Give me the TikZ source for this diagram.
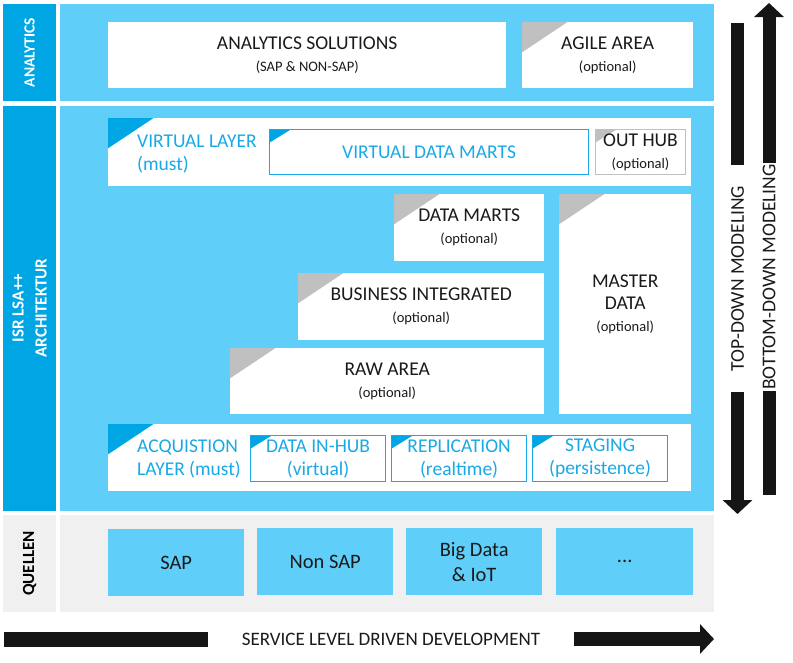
\documentclass[tikz,border=0pt]{standalone}
\usepackage{fontspec}
\setmainfont{Carlito}
\usetikzlibrary{arrows.meta}

\definecolor{sidebl}{HTML}{00A6E4}
\definecolor{panelbl}{HTML}{5FCFFA}
\definecolor{textbl}{HTML}{1AA9E6}
\definecolor{trigr}{HTML}{C0C0C0}
\definecolor{srcbg}{HTML}{F0F0F0}
\definecolor{fatblk}{HTML}{151515}
\definecolor{txtblk}{HTML}{1A1A1A}

\newcommand{\opt}[1]{{\fontsize{14.5}{17}\selectfont #1}}

\tikzset{
  basebox/.style={anchor=north west, inner sep=0pt, align=center,
    text=txtblk, font=\fontsize{19.5}{22}\selectfont},
  whitebox/.style={basebox, fill=white, execute at begin node={\rule{0pt}{18.5pt}}},
  srcbox/.style={basebox, fill=panelbl, minimum width=136pt, minimum height=67pt,
    font=\fontsize{20.5}{25}\selectfont},
  subbox/.style={basebox, fill=white, draw=textbl, line width=1.2pt, text=textbl,
    font=\fontsize{19.5}{23}\selectfont},
  bigtri/.style={path picture={\fill[#1] (path picture bounding box.north west)
    -- ++(45,0) -- ++(-45,30) -- cycle;}},
  smalltri/.style={path picture={\fill[#1] (path picture bounding box.north west)
    -- ++(21,0) -- ++(-21,13) -- cycle;}},
  bluetxt/.style={anchor=west, align=left, inner sep=0pt, text=textbl,
    font=\fontsize{19.5}{23}\selectfont},
  sidelbl/.style={rotate=90, align=center, text=white,
    font=\fontsize{17}{23}\selectfont\bfseries},
  modelbl/.style={rotate=90, inner sep=0pt, minimum width=227pt, text=txtblk,
    font=\fontsize{19.5}{22}\selectfont},
  fatbar/.style={draw=fatblk, line width=13pt},
  fatarrow/.style={fatbar, -{Triangle[width=29pt,length=14pt]}},
}

\begin{document}
\begin{tikzpicture}[x=1pt,y=-1pt]
\useasboundingbox (0,0) rectangle (793,662);

% --- analytics ---
\fill[sidebl] (3,4) rectangle (56,101);
\fill[panelbl] (60,4) rectangle (714,101);
\node[sidelbl, font=\fontsize{15.5}{17}\selectfont\bfseries] (lblana) at (29.5,52.5) {ANALYTICS};

\node[whitebox, minimum width=398pt, minimum height=66pt] (anasol) at (108,22)
  {ANALYTICS SOLUTIONS\\\opt{(SAP \& NON-SAP)}};
\node[whitebox, bigtri=trigr, minimum width=171pt, minimum height=66pt] (agile) at (522,22)
  {AGILE AREA\\\opt{(optional)}};

% --- isr lsa++ ---
\fill[sidebl] (3,106) rectangle (56,511);
\fill[panelbl] (60,106) rectangle (714,511);
\node[sidelbl] (lblisr) at (29.5,308) {ISR LSA++\\ARCHITEKTUR};

% virtual layer
\node[basebox, fill=white, bigtri=sidebl, minimum width=583pt, minimum height=68pt] (vlayer) at (108,118) {};
\node[bluetxt] (vlayertxt) at (137,154) {VIRTUAL LAYER\\(must)};
\node[subbox, smalltri=sidebl, minimum width=319pt, minimum height=45pt] (vdm) at (269,129)
  {VIRTUAL DATA MARTS};
\node[whitebox, draw=trigr, line width=1pt, smalltri=trigr, minimum width=90pt,
  minimum height=45pt] (outhub) at (595,129) {OUT HUB\\\opt{(optional)}};

% schichten
\node[whitebox, bigtri=trigr, minimum width=150pt, minimum height=67pt] (dmarts) at (394,194)
  {DATA MARTS\\\opt{(optional)}};
\node[whitebox, bigtri=trigr, minimum width=132pt, minimum height=220pt] (mdata) at (559,194)
  {MASTER\\DATA\\\opt{(optional)}};
\node[whitebox, bigtri=trigr, minimum width=246pt, minimum height=67pt] (bizint) at (298,273)
  {BUSINESS INTEGRATED\\\opt{(optional)}};
\node[whitebox, bigtri=trigr, minimum width=314pt, minimum height=66pt] (rawarea) at (230,348)
  {RAW AREA\\\opt{(optional)}};

% acquisition layer
\node[basebox, fill=white, bigtri=sidebl, minimum width=583pt, minimum height=67pt] (acqlayer) at (108,424) {};
\node[bluetxt] (acqtxt) at (137,459.5) {ACQUISTION\\LAYER (must)};
\foreach \x/\nm/\ta/\tb in {250/inhub/DATA IN-HUB/(virtual),
                            391/replic/REPLICATION/(realtime),
                            532/staging/STAGING/(persistence)}
  \node[subbox, smalltri=sidebl, minimum width=135pt, minimum height=46pt] (\nm) at (\x,435)
    {\ta\\\tb};

% --- quellen ---
\fill[srcbg] (3,515) rectangle (56,612);
\fill[srcbg] (60,515) rectangle (714,612);
\node[sidelbl, text=black] (lblsrc) at (29.5,563.5) {QUELLEN};

\node[srcbox] (srcsap) at (108,529) {SAP};
\node[srcbox] (srcnon) at (257,528) {Non SAP};
\node[srcbox] (srcbig) at (406,528) {Big Data\\\& IoT};
\node[srcbox, minimum width=137pt] (srcmore) at (556,528) {...};

% --- pfeile ---
\coordinate (tdtop) at (737.5,23);
\coordinate (tdbot) at (737.5,514);
\node[modelbl] (tdtxt) at (737.5,278.5) {TOP-DOWN MODELING};
\draw[fatbar] (tdtop) -- (tdtxt.east);
\draw[fatarrow] (tdtxt.west) -- (tdbot);

\coordinate (butop) at (769,3);
\coordinate (bubot) at (769,495);
\node[modelbl] (butxt) at (769,277) {BOTTOM-DOWN MODELING};
\draw[fatbar] (bubot) -- (butxt.west);
\draw[fatarrow] (butxt.east) -- (butop);

\coordinate (sleft) at (4,639);
\coordinate (sright) at (714,639);
\node[inner sep=0pt, minimum width=365pt, text=txtblk, font=\fontsize{19}{22}\selectfont]
  (sltxt) at (391,639) {SERVICE LEVEL DRIVEN DEVELOPMENT};
\draw[fatbar, line width=15pt] (sleft) -- (sltxt.west);
\draw[fatarrow, line width=14pt] (sltxt.east) -- (sright);

\end{tikzpicture}
\end{document}
